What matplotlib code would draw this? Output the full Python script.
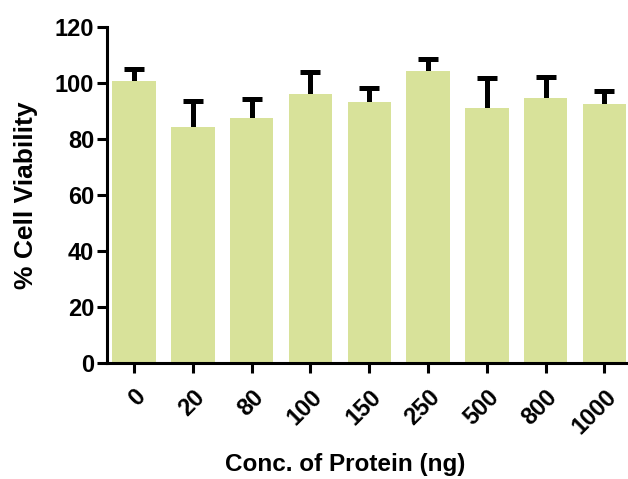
import matplotlib
matplotlib.use('Agg')
import matplotlib.pyplot as plt
import numpy as np

plt.rcParams['font.family'] = ['Liberation Sans', 'DejaVu Sans']
plt.rcParams['font.weight'] = 'bold'

conc = ['0', '20', '80', '100', '150', '250', '500', '800', '1000']
viability = [100.5, 84.3, 87.5, 96.0, 93.0, 104.3, 91.0, 94.7, 92.3]
err_up = [4.6, 9.4, 6.9, 7.7, 5.3, 4.3, 10.7, 7.4, 4.9]

fig = plt.figure(figsize=(6.28, 4.79), dpi=100)
ax = fig.add_axes([0.170, 0.242, 0.830, 0.702])

x = np.arange(len(conc))
v = np.array(viability)
e = np.array(err_up)
ax.bar(x, v, width=0.74, color='#d8e29a', zorder=2)
# upper error only: stem from inside the bar, cap at the top
ax.errorbar(x, v, yerr=[np.zeros(len(x)), e], fmt='none',
            ecolor='black', elinewidth=3.6, capsize=0, zorder=1)
ax.plot(x, v + e, ls='none', marker='_', ms=14, mew=3.6, color='black', zorder=1)

ax.set_xlim(-0.465, 8.40)
ax.set_ylim(0, 120)
ax.set_yticks(np.arange(0, 121, 20))
ax.set_xticks(x)
ax.set_xticklabels(conc, rotation=45, ha='right', rotation_mode='anchor')

for s in ['top', 'right']:
    ax.spines[s].set_visible(False)
for s in ['left', 'bottom']:
    ax.spines[s].set_linewidth(2.2)
ax.spines['bottom'].set_zorder(3)

ax.tick_params(axis='both', width=2.2, length=7, labelsize=17)
ax.tick_params(axis='y', pad=2)
ax.tick_params(axis='x', pad=9)
ax.set_ylabel('% Cell Viability', fontsize=19, fontweight='bold', labelpad=12)
ax.set_xlabel('Conc. of Protein (ng)', fontsize=17.5, fontweight='bold')
ax.xaxis.set_label_coords(0.457, -0.268)

plt.savefig('out.png', dpi=100)
